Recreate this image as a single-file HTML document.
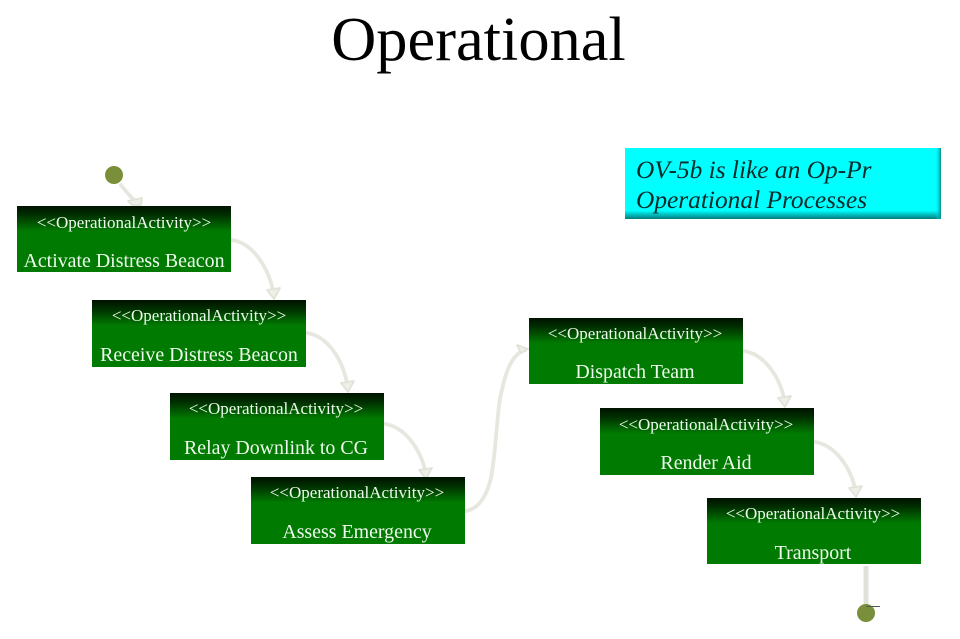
<!DOCTYPE html>
<html><head><meta charset="utf-8">
<style>
html,body{margin:0;padding:0;background:#fff;width:960px;height:639px;overflow:hidden}
svg{display:block}
text{font-family:"Liberation Serif",serif}
.s{fill:#eefbee;font-size:17px;text-anchor:middle}
.n{fill:#eefbee;font-size:19.900px;text-anchor:middle}
.c{fill:none;stroke:#e6e8df;stroke-width:3.800;stroke-linecap:round}
.h{fill:#eef0e8;stroke:#e0e3d8;stroke-width:1.800;stroke-linejoin:round}
</style></head>
<body>
<svg width="960" height="639" viewBox="0 0 960 639" xmlns="http://www.w3.org/2000/svg">
<defs>
<linearGradient id="g" x1="0" y1="0" x2="0" y2="1">
<stop offset="0" stop-color="#001200"/><stop offset=".14" stop-color="#003000"/><stop offset=".38" stop-color="#007a00"/><stop offset="1" stop-color="#007a00"/>
</linearGradient>
<linearGradient id="cy" x1="0" y1="0" x2="0" y2="1">
<stop offset="0" stop-color="#00ffff"/><stop offset=".88" stop-color="#00ffff"/><stop offset="1" stop-color="#007a7c"/>
</linearGradient>
<linearGradient id="cx" x1="0" y1="0" x2="1" y2="0">
<stop offset="0" stop-color="#00ffff" stop-opacity="0"/><stop offset="1" stop-color="#008a8a"/>
</linearGradient>
</defs>

<text x="478.500" y="60" font-size="62.400" text-anchor="middle" fill="#000">Operational</text>

<rect x="625" y="148" width="316" height="71" fill="url(#cy)"/>
<rect x="935" y="148" width="6" height="71" fill="url(#cx)"/>
<text x="636" y="178" font-size="25.400" font-style="italic" fill="#0a2a2a">OV-5b is like an Op-Pr</text>
<text x="636" y="208" font-size="25.400" font-style="italic" fill="#0a2a2a">Operational Processes</text>

<!-- connectors -->
<path class="c" d="M121 185 Q127 193 134 200"/><polygon class="h" points="128,201 142,198 141,205 132,205"/>
<path class="c" d="M232 240 C252 243 267 265 273 290"/><polygon class="h" points="267,290 280,288 274,299"/>
<path class="c" d="M307 333 C327 336 342 358 347 383"/><polygon class="h" points="341,383 354,381 348,392"/>
<path class="c" d="M385 424 C405 427 420 449 425 470"/><polygon class="h" points="419,470 432,468 426,479"/>
<path class="c" d="M466 511 C482 508 488 490 491 478 C497 445 497 405 502 390 C507 365 515 353 525 350"/><polygon class="h" points="517,345 528,349 521,353"/>
<path class="c" d="M744 351 C764 354 779 376 784 398"/><polygon class="h" points="778,398 791,396 785,407"/>
<path class="c" d="M815 442 C835 445 850 467 855 488"/><polygon class="h" points="849,488 862,486 856,497"/>
<path d="M866 566 V606" fill="none" stroke="#e0e2da" stroke-width="5"/>

<!-- nodes -->
<rect x="17" y="206" width="214" height="66" fill="url(#g)"/>
<text class="s" x="124" y="228">&lt;&lt;OperationalActivity&gt;&gt;</text>
<text class="n" x="124" y="267">Activate Distress Beacon</text>

<rect x="92" y="300" width="214" height="67" fill="url(#g)"/>
<text class="s" x="199" y="321">&lt;&lt;OperationalActivity&gt;&gt;</text>
<text class="n" x="199" y="361">Receive Distress Beacon</text>

<rect x="170" y="393" width="214" height="67" fill="url(#g)"/>
<text class="s" x="276" y="414">&lt;&lt;OperationalActivity&gt;&gt;</text>
<text class="n" x="276" y="454">Relay Downlink to CG</text>

<rect x="251" y="477" width="214" height="67" fill="url(#g)"/>
<text class="s" x="357" y="498">&lt;&lt;OperationalActivity&gt;&gt;</text>
<text class="n" x="357" y="538">Assess Emergency</text>

<rect x="529" y="318" width="214" height="66" fill="url(#g)"/>
<text class="s" x="635" y="339">&lt;&lt;OperationalActivity&gt;&gt;</text>
<text class="n" x="635" y="378">Dispatch Team</text>

<rect x="600" y="408" width="214" height="67" fill="url(#g)"/>
<text class="s" x="706" y="430">&lt;&lt;OperationalActivity&gt;&gt;</text>
<text class="n" x="706" y="469">Render Aid</text>

<rect x="707" y="498" width="214" height="66" fill="url(#g)"/>
<text class="s" x="813" y="519">&lt;&lt;OperationalActivity&gt;&gt;</text>
<text class="n" x="813" y="559">Transport</text>

<!-- terminals -->
<circle cx="114" cy="175" r="9" fill="#7a8f3a"/>
<circle cx="866" cy="613" r="9" fill="#7a8f3a"/>
<path d="M866 606.500 H880" stroke="#555" stroke-width="1"/>
</svg>
</body></html>
